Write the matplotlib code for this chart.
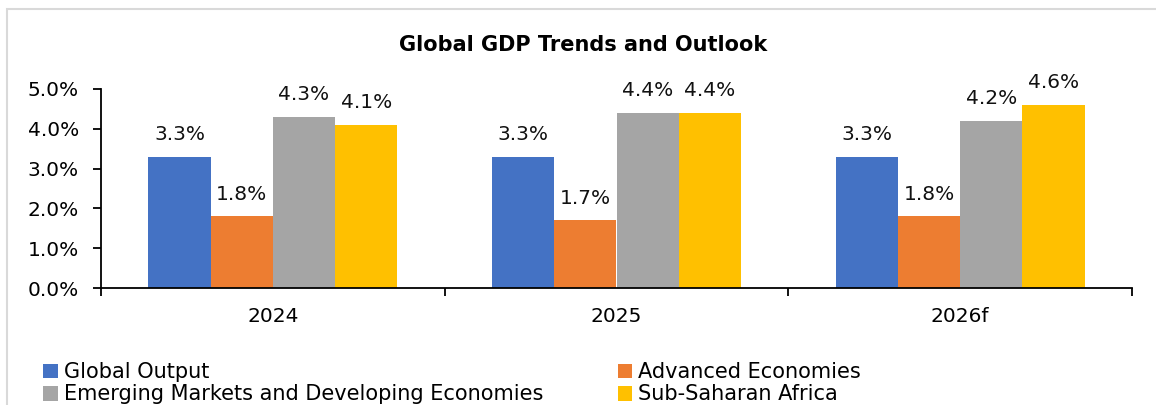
import matplotlib
matplotlib.use("Agg")
import matplotlib.pyplot as plt
import numpy as np
from matplotlib.patches import Rectangle

years = ["2024", "2025", "2026f"]
series = ["Global Output", "Advanced Economies",
          "Emerging Markets and Developing Economies", "Sub-Saharan Africa"]
global_output = [3.3, 3.3, 3.3]
advanced = [1.8, 1.7, 1.8]
emerging = [4.3, 4.4, 4.2]
ssa = [4.1, 4.4, 4.6]
colors = ["#4472C4", "#ED7D31", "#A5A5A5", "#FFC000"]

plt.rcParams['font.family'] = ['DejaVu Sans']
fs = 14.5

fig = plt.figure(figsize=(11.56, 4.05), dpi=100)
ax = fig.add_axes([101/1156, 1 - 288/405, (1132 - 101)/1156, (288 - 89)/405])

# light frame like the Excel chart area
fig.patches.append(Rectangle((7/1156, -0.1), 1.2, 1 - 9/405 + 0.1,
                             transform=fig.transFigure, fill=False,
                             edgecolor="#D9D9D9", linewidth=1.5))

x = np.arange(len(years))
w = 0.181
values = [global_output, advanced, emerging, ssa]
handles = []
for i, (vals, c, name) in enumerate(zip(values, colors, series)):
    pos = x + (i - 1.5) * w
    bars = ax.bar(pos, vals, width=w, color=c, label=name)
    handles.append(bars)
    for b, v in zip(bars, vals):
        ax.text(b.get_x() + b.get_width() / 2, v + 0.32, f"{v:.1f}%",
                ha="center", va="bottom", fontsize=fs, color="#111111")

ax.set_xlim(-0.5, 2.5)
ax.set_ylim(0, 5.0)
ax.set_yticks(np.arange(0, 5.01, 1.0))
ax.set_yticklabels([f"{t:.1f}%" for t in np.arange(0, 5.01, 1.0)], fontsize=fs)
ax.set_xticks(x)
ax.set_xticklabels(years, fontsize=fs)
ax.tick_params(axis="x", length=0, pad=14)
ax.set_xticks([-0.5, 0.5, 1.5, 2.5], minor=True)
ax.tick_params(axis="x", which="minor", length=6, width=1.3, direction="out")
ax.tick_params(axis="y", length=6, width=1.3, direction="out", pad=10)
for s in ["top", "right"]:
    ax.spines[s].set_visible(False)
for s in ["left", "bottom"]:
    ax.spines[s].set_linewidth(1.3)

fig.text(583/1156, 1 - 45/405, "Global GDP Trends and Outlook",
         ha="center", va="center", fontsize=15, fontweight="bold")

# legend filled row by row, like Excel
order = [0, 2, 1, 3]
fig.legend([handles[k] for k in order], [series[k] for k in order],
           loc="upper left", bbox_to_anchor=(33/1156, 1 - 352/405),
           ncol=2, frameon=False, fontsize=15, handlelength=0.7, handleheight=0.7,
           handletextpad=0.3, columnspacing=3.55, labelspacing=0.1, borderpad=0)

fig.savefig("out.png", dpi=100)
